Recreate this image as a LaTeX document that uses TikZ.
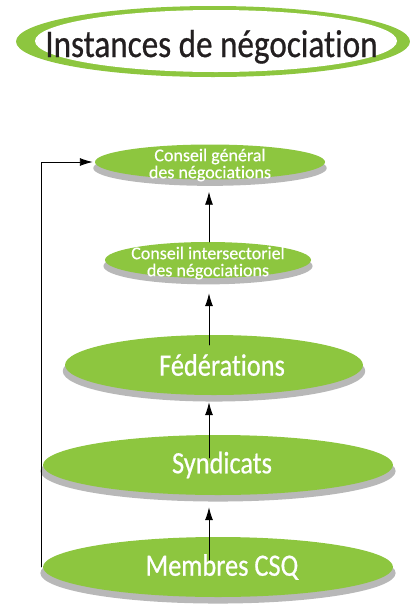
\documentclass[tikz,border=0pt]{standalone}
\usepackage{fontspec}
\setmainfont{Carlito}[Ligatures=NoCommon, FakeBold=0.4]
\newfontfamily\condfont{Carlito}[FakeStretch=0.85, Ligatures=NoCommon, FakeBold=0.6]
\usetikzlibrary{arrows.meta, shapes.geometric, shadows, calc}

\definecolor{leafgreen}{HTML}{8DC63F}
\definecolor{inkgray}{HTML}{231F20}

\tikzset{
    level/.style={ellipse, fill=leafgreen, inner sep=0pt,
        general shadow={fill=black!28, shadow yshift=-6pt, shadow scale=1.015}},
    bigtext/.style={text=white, font=\condfont\fontsize{31}{31}\selectfont},
    smalltext/.style={text=white, align=center, font=\fontsize{18}{17}\selectfont},
    flow/.style={line width=0.9pt, -{Latex[length=13pt, width=8pt]}}
}

\begin{document}
\begin{tikzpicture}[x=1pt, y=-1pt, line cap=round, line join=round]
        \useasboundingbox (0, 0) rectangle (410, 606);
        % draw title ring
        \fill[leafgreen] (213, 41.5) ellipse [x radius=197, y radius=35.5];
        \fill[white] (216, 41) ellipse [x radius=181, y radius=31];
        \node[anchor=base, inner sep=0pt, text=inkgray, font=\condfont\fontsize{39}{39}\selectfont] (titre) at (211.5, 57) {Instances de négociation};
        % draw levels, top to bottom
        \node[level, minimum width=230pt, minimum height=35pt,
            label={[smalltext, yshift=-3pt]center:Conseil général\\des négociations}] (cgn) at (210, 162) {};
        \node[level, minimum width=206pt, minimum height=36pt,
            label={[smalltext, yshift=-3pt]center:Conseil intersectoriel\\des négociations}] (cin) at (208, 260) {};
        \node[level, minimum width=298pt, minimum height=60pt] (fed) at (214, 365) {};
        \node[bigtext, xshift=8pt] at (fed) {Fédérations};
        \node[level, minimum width=350pt, minimum height=60pt] (synd) at (218, 465) {};
        \node[bigtext, xshift=4pt] at (synd) {Syndicats};
        \node[level, minimum width=350pt, minimum height=60pt] (membres) at (218, 567) {};
        \node[bigtext, xshift=4pt] at (membres) {Membres CSQ};
        % draw upward arrows on one axis
        \coordinate (axe) at (209, 0);
        \draw[flow] (axe |- cin.north) -- ($(axe |- cgn.south) + (0, 12)$);
        \draw[flow] ($(axe |- fed.north) + (0, 10)$) -- ($(axe |- cin.south) + (0, 15)$);
        \draw[flow] ($(axe |- synd.north) + (0, 23)$) -- ($(axe |- fed.south) + (0, 7)$);
        \draw[flow] ($(axe |- membres.north) + (0, 23)$) -- ($(axe |- synd.south) + (0, 12)$);
        % draw side link from members to general council
        \draw[flow] ([xshift=-1pt]membres.west) |- ([xshift=-2pt]cgn.west);
\end{tikzpicture}
\end{document}
